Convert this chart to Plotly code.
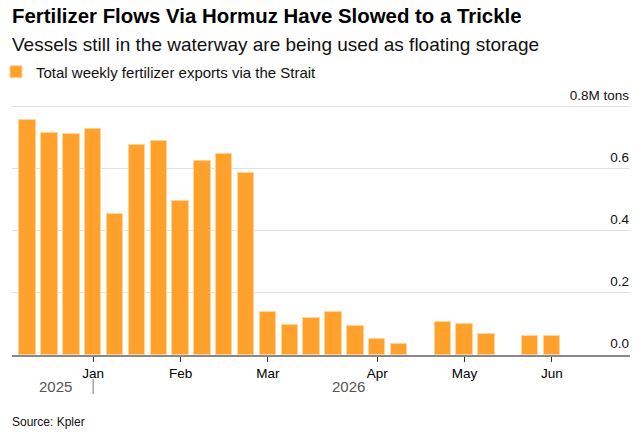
import plotly.graph_objects as go

weeks = ["2025-12-15", "2025-12-22", "2025-12-29", "2026-01-05", "2026-01-12",
         "2026-01-19", "2026-01-26", "2026-02-02", "2026-02-09", "2026-02-16",
         "2026-02-23", "2026-03-02", "2026-03-09", "2026-03-16", "2026-03-23",
         "2026-03-30", "2026-04-06", "2026-04-13", "2026-04-20", "2026-04-27",
         "2026-05-04", "2026-05-11", "2026-05-18", "2026-05-25", "2026-06-01"]
exports_mt = [0.756, 0.717, 0.714, 0.728, 0.454, 0.676, 0.689, 0.498, 0.626, 0.647,
              0.586, 0.140, 0.098, 0.119, 0.138, 0.092, 0.051, 0.034, None, 0.105,
              0.100, 0.068, None, 0.061, 0.061]
month_ticks = ["2026-01-05", "2026-02-02", "2026-03-02", "2026-04-06", "2026-05-04", "2026-06-01"]
month_labels = ["Jan", "Feb", "Mar", "Apr", "May", "Jun"]
y_ticks = [0, 0.2, 0.4, 0.6, 0.8]
y_labels = ["0.0", "0.2", "0.4", "0.6", "0.8M tons"]

ORANGE = "#FFA12B"
FONT = "Liberation Sans"

fig = go.Figure()
fig.add_trace(go.Bar(
    x=weeks, y=exports_mt, name="Total weekly fertilizer exports via the Strait",
    marker=dict(color=ORANGE, line=dict(color="#FFD59A", width=1)),
    width=5.25 * 86400000,
))

T, B = 82, 77
H = 432 - T - B
YMAX = 0.88

def py(p):
    return (432 - B - p) / H

fig.update_layout(
    width=643, height=432,
    margin=dict(l=12, r=13, t=T, b=B, autoexpand=False),
    paper_bgcolor="white", plot_bgcolor="white",
    font=dict(family=FONT, color="#000", size=13),
    bargap=0,
    showlegend=True,
    legend=dict(orientation="h", xref="paper", yref="paper",
                x=-16 / 618, y=py(72), yanchor="middle", xanchor="left",
                itemwidth=30,
                font=dict(size=15, color="#111"), bgcolor="rgba(0,0,0,0)"),
    xaxis=dict(type="date", range=["2025-12-10", "2026-06-26"],
               tickvals=month_ticks, ticktext=month_labels,
               ticks="outside", ticklen=5, tickcolor="#333", tickwidth=1,
               showline=True, linecolor="#888", linewidth=2,
               showgrid=False, tickfont=dict(size=13.5, color="#000")),
    yaxis=dict(side="right", range=[0, YMAX], tickvals=y_ticks, ticktext=y_labels,
               ticklabelposition="inside top", ticklabelstandoff=-2, ticklabelshift=-2,
               showgrid=True, gridcolor="#e1e1e1",
               gridwidth=1.3, zeroline=False, tickfont=dict(size=13.5, color="#111"),
               ticks=""),
    annotations=[
        dict(text="<b>Fertilizer Flows Via Hormuz Have Slowed to a Trickle</b>",
             xref="paper", yref="paper", x=-0.003, y=py(16), xanchor="left", yanchor="middle",
             showarrow=False, font=dict(size=20.4, color="#000")),
        dict(text="Vessels still in the waterway are being used as floating storage",
             xref="paper", yref="paper", x=-0.003, y=py(44), xanchor="left", yanchor="middle",
             showarrow=False, font=dict(size=19, color="#111")),
        dict(text="2025", xref="paper", yref="paper", x=(55.5 - 12) / 618, y=py(386),
             xanchor="center", yanchor="middle", showarrow=False,
             font=dict(size=15, color="#555")),
        dict(text="2026", xref="paper", yref="paper", x=(348 - 12) / 618, y=py(386),
             xanchor="center", yanchor="middle", showarrow=False,
             font=dict(size=15, color="#555")),
        dict(text="Source: Kpler", xref="paper", yref="paper", x=-0.003, y=py(422),
             xanchor="left", yanchor="middle", showarrow=False,
             font=dict(size=12, color="#111")),
    ],
    shapes=[dict(type="line", xref="x", yref="paper", x0="2026-01-05", x1="2026-01-05",
                 y0=py(379), y1=py(394), line=dict(color="#777", width=1))],
)

fig.write_html("out.html")
